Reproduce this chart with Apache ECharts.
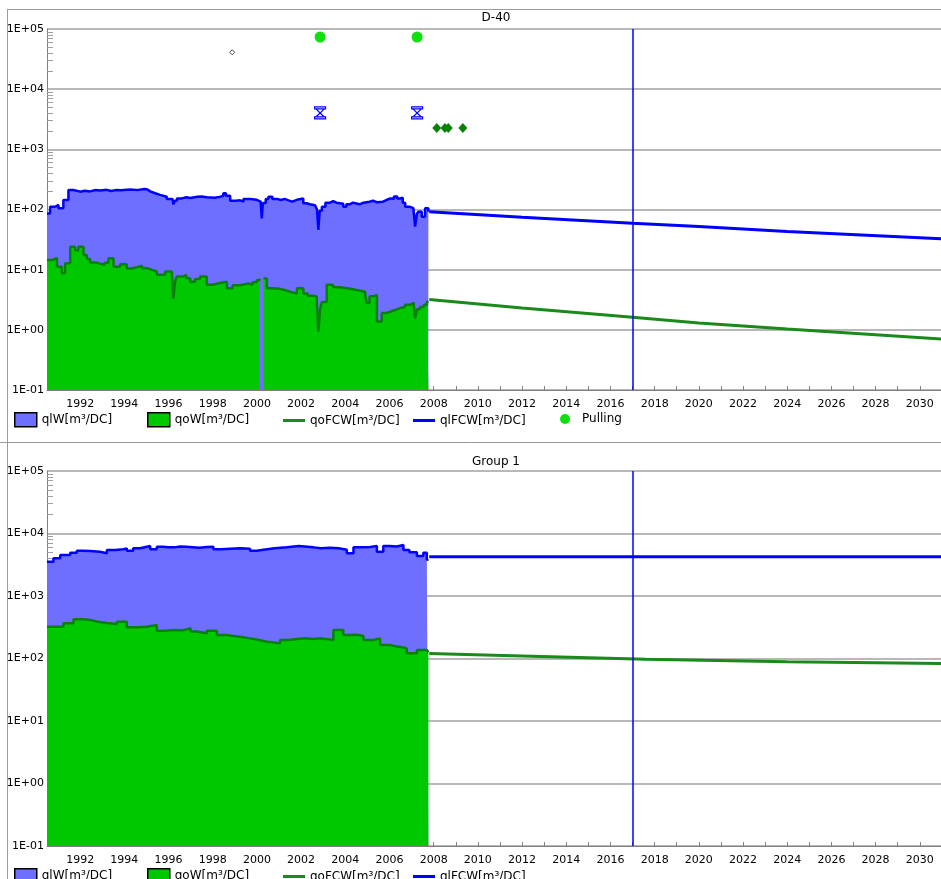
<!DOCTYPE html>
<html>
<head>
<meta charset="utf-8">
<title>D-40 / Group 1 rates</title>
<script src="https://cdn.jsdelivr.net/npm/echarts@6/dist/echarts.min.js"></script>
<style>
  html, body { margin: 0; padding: 0; background: #fff; }
  #chart { width: 941px; height: 879px; }
</style>
</head>
<body>
<div id="chart"></div>
<script>
// ---- D-40 well history: [decimal year, rate m³/DC] ----
const d40Liquid = [
  [1990.5,86],[1990.64,111],[1990.87,119],[1991.02,105],[1991.24,144],[1991.47,211],[1991.7,198],
  [1992.0,205],[1992.2,200],[1992.45,211],[1992.7,207],[1992.9,212],[1993.21,203],[1993.4,210],[1993.6,208],
  [1993.85,212],[1994.1,214],[1994.35,210],[1994.57,219],[1994.9,215],[1995.05,200],[1995.17,186],[1995.4,175],
  [1995.62,163],[1995.92,150],[1996.18,140],[1996.22,122],[1996.28,140],[1996.38,153],[1996.6,160],[1996.8,155],
  [1996.98,163],[1997.3,165],[1997.5,160],[1997.73,157],[1998.1,162],[1998.3,168],[1998.48,186],[1998.6,170],
  [1998.79,140],[1999.05,142],[1999.24,135],[1999.39,150],[1999.7,145],[1999.99,135],[2000.17,130],[2000.22,71],
  [2000.27,128],[2000.4,150],[2000.52,163],[2000.7,150],[2000.9,144],[2001.1,150],[2001.25,142],[2001.43,135],
  [2001.6,145],[2001.81,153],[2002.1,127],[2002.25,122],[2002.4,118],[2002.63,111],[2002.72,100],[2002.78,46],
  [2002.84,95],[2002.94,111],[2003.1,130],[2003.31,138],[2003.45,130],[2003.6,125],[2003.91,111],[2004.05,122],
  [2004.2,130],[2004.35,126],[2004.5,122],[2004.65,130],[2004.82,135],[2005.1,140],[2005.25,132],[2005.43,135],
  [2005.7,145],[2005.88,153],[2006.05,150],[2006.2,165],[2006.35,152],[2006.48,157],[2006.6,130],
  [2006.71,111],[2006.93,105],[2007.08,98],[2007.16,52],[2007.24,85],[2007.31,92],[2007.46,76],
  [2007.61,105],[2007.76,92]
];
// oil history is split around the short shut-in early in 2000
const d40OilBeforeShutIn = [
  [1990.5,14.5],[1990.72,15.5],[1990.95,11.2],[1991.17,8.7],[1991.32,12.8],[1991.55,24],[1991.77,21],
  [1991.92,24],[1992.15,17.5],[1992.3,15],[1992.45,13.2],[1992.7,12.6],[1992.9,12],[1993.1,13],[1993.28,15.5],
  [1993.51,11.2],[1993.81,12.3],[1994.11,10.5],[1994.35,11],[1994.57,11.6],[1994.8,10.6],[1995.02,9.9],
  [1995.25,9.4],[1995.47,8.2],[1995.85,9.3],[1996.15,8.5],[1996.22,3.3],[1996.3,6.5],[1996.38,7.7],
  [1996.67,8.2],[1996.8,7.2],[1996.98,6.3],[1997.2,7.0],[1997.43,7.7],[1997.73,5.6],[1998.0,6.0],[1998.33,6.3],
  [1998.64,4.9],[1998.9,5.5],[1999.24,5.9],[1999.62,5.6],[1999.8,6.2],[1999.99,6.7],[2000.12,7.1]
];
const d40OilAfterShutIn = [
  [2000.3,7.1],[2000.45,4.9],[2000.75,4.8],[2001.05,4.6],[2001.25,4.3],[2001.5,4.0],[2001.81,4.9],[2002.1,4.0],
  [2002.3,3.7],[2002.56,3.6],[2002.7,3.4],[2002.78,0.93],[2002.86,2.2],[2002.94,2.9],[2003.16,5.6],[2003.45,5.1],
  [2003.76,4.9],[2004.1,4.6],[2004.52,4.3],[2004.9,3.8],[2004.97,2.8],[2005.1,3.6],[2005.27,3.8],[2005.43,1.37],
  [2005.65,1.9],[2005.85,2.0],[2006.03,2.14],[2006.25,2.3],[2006.48,2.4],[2006.7,2.6],[2006.93,2.8],
  [2007.1,2.5],[2007.16,1.55],[2007.25,2.2],[2007.38,2.4],[2007.55,2.6],[2007.69,2.9],[2007.76,3.0]
];
const d40OilForecast = [[2007.8,3.2],[2012,2.3],[2017,1.62],[2020,1.3],[2024,1.03],[2031,0.70]];
const d40LiquidForecast = [[2007.8,92],[2012,74],[2017,59],[2020,52],[2024,43],[2031,32.5]];

// ---- D-40 well events ----
const pullingEvents = [[2002.86,73600],[2007.25,73600]];
const hourglassEvents = [[2002.86,4020],[2007.25,4020]];
const diamondEvents = [[2008.14,2265],[2008.51,2265],[2008.66,2265],[2009.32,2265]];
const smallEvents = [[1998.88,41000]];

// ---- Group 1 history and forecast ----
const groupLiquid = [
  [1990.5,3540],[1990.79,4010],[1991.1,4530],[1991.4,4530],[1991.55,4930],[1991.85,5310],[1992.15,5250],
  [1992.45,5120],[1992.9,4820],[1993.21,5450],[1993.6,5600],[1993.96,5790],[1994.11,5310],[1994.4,5800],
  [1994.71,6150],[1995.02,6310],[1995.17,5580],[1995.47,6150],[1995.75,6000],[1996.0,6000],[1996.25,6200],
  [1996.52,6150],[1996.8,6050],[1997.1,5900],[1997.4,6100],[1997.73,6150],[1998.03,5580],[1998.4,5700],
  [1998.79,5790],[1999.24,5720],[1999.69,5310],[2000.0,5500],[2000.29,5790],[2000.8,6000],[2001.35,6310],
  [2001.9,6000],[2002.56,5790],[2002.9,5900],[2003.31,5790],[2003.7,5500],[2004.07,4820],[2004.37,6000],
  [2004.75,6100],[2005.12,6310],[2005.43,5120],[2005.72,6310],[2006.0,6200],[2006.33,6550],[2006.63,5450],
  [2006.9,5000],[2007.24,4370],[2007.53,4930],[2007.69,3770],[2007.76,3900]
];
const groupOil = [
  [1990.5,323],[1990.87,323],[1991.24,366],[1991.7,424],[1992.15,413],[1992.45,388],[1992.8,370],
  [1993.21,356],[1993.66,388],[1994.11,317],[1994.57,323],[1995.02,344],[1995.47,279],[1995.85,285],
  [1996.22,283],[1996.67,304],[1997.0,270],[1997.28,253],[1997.73,279],[1998.19,238],[1998.64,229],
  [1998.95,222],[1999.24,210],[1999.69,198],[2000.1,185],[2000.45,175],[2001.05,198],[2001.4,205],
  [2001.81,210],[2002.2,205],[2002.56,210],[2002.86,198],[2003.46,286],[2003.91,238],[2004.2,240],
  [2004.52,229],[2004.82,198],[2005.27,210],[2005.57,164],[2006.03,155],[2006.35,150],[2006.63,145],
  [2006.78,121],[2007.24,137],[2007.69,137],[2007.76,125]
];
const groupOilForecast = [[2007.8,120],[2012,110],[2017.6,97],[2024,89],[2031,83]];
const groupLiquidForecast = [[2007.8,4250],[2031,4250]];

// ---- axes ----
const labelYears = [1992,1994,1996,1998,2000,2002,2004,2006,2008,2010,2012,2014,2016,2018,2020,2022,2024,2026,2028,2030];
const tickYears = [1991,1992,1993,1994,1995,1996,1997,1998,1999,2000,2001,2002,2003,2004,2005,2006,2007,2008,2009,2010,2011,2012,2013,2014,2015,2016,2017,2018,2019,2020,2021,2022,2023,2024,2025,2026,2027,2028,2029,2030];
const forecastDate = 2017;
const yMin = 0.1, yMax = 1e5;
const minorMultipliers = [2,3,4,5,6,7,8,9];
const decades = [0.1,1,10,100,1000,10000];

const minorTickPositions = [];
decades.forEach(d => minorMultipliers.forEach(m => minorTickPositions.push(Math.log10(d * m))));

const FONT = 'DejaVu Sans';
const C_LIQ_FILL = '#6e6eff', C_LIQ_LINE = '#0000ff';
const C_OIL_FILL = '#00c800', C_OIL_LINE = '#0a800a';
const C_OIL_FC = '#1a8a1a';
const C_PULL = '#10e010';
const GRID_C = '#a0a0a0', AXIS_C = '#808080';

const grids = [
  { left: 47, right: 0, top: 29, height: 361 },
  { left: 47, right: 0, top: 471, height: 375 }
];

function expLabel(v) {
  const e = Math.round(Math.log10(v));
  const s = e < 0 ? '-' : '+';
  return '1E' + s + String(Math.abs(e)).padStart(2, '0');
}

const xAxes = [0, 1].map(i => ({
  type: 'value', gridIndex: i, min: 1990.5, max: 2030.96,
  axisLine: { show: true, onZero: false, lineStyle: { color: AXIS_C, width: 1 } },
  axisTick: { show: true, inside: true, length: 4, customValues: tickYears, lineStyle: { color: AXIS_C } },
  axisLabel: { customValues: labelYears, formatter: v => String(Math.round(v)), color: '#000', fontFamily: FONT, fontSize: 11, margin: 9 },
  splitLine: { show: false }
}));

const yAxes = [];
[0, 1].forEach(i => {
  yAxes.push({
    type: 'log', logBase: 10, gridIndex: i, min: yMin, max: yMax, position: 'left',
    axisLine: { show: true, onZero: false, lineStyle: { color: AXIS_C, width: 1 } },
    axisTick: { show: false },
    axisLabel: { formatter: expLabel, color: '#000', fontFamily: FONT, fontSize: 11, margin: 3 },
    splitLine: { show: true, lineStyle: { color: GRID_C, width: 1.5 } }
  });
  // minor tick marks between decades
  yAxes.push({
    type: 'value', gridIndex: i, min: -1, max: 5, position: 'left', offset: 0,
    axisLine: { show: false, onZero: false },
    axisTick: { show: true, inside: true, length: 6, customValues: minorTickPositions, lineStyle: { color: GRID_C, width: 1 } },
    axisLabel: { show: false },
    splitLine: { show: false }
  });
});

function areaSeries(name, data, xi, yi, fill, line) {
  return {
    name, type: 'line', xAxisIndex: xi, yAxisIndex: yi, data, step: 'end',
    showSymbol: false, symbol: 'none',
    lineStyle: { color: line, width: 2.5 },
    itemStyle: { color: fill },
    areaStyle: { color: fill, opacity: 1, origin: 'start' }
  };
}
function lineSeries(name, data, xi, yi, color, extra) {
  return Object.assign({
    name, type: 'line', xAxisIndex: xi, yAxisIndex: yi, data,
    showSymbol: false, symbol: 'none',
    lineStyle: { color, width: 3 }, itemStyle: { color }
  }, extra || {});
}
function forecastMark() {
  return {
    silent: true, symbol: ['none', 'none'], label: { show: false },
    lineStyle: { color: '#0000ff', width: 1.5, type: 'solid' },
    data: [{ xAxis: forecastDate }]
  };
}

const HOURGLASS = 'path://M0,0H12V2H0Z M1.5,2H10.5L6,6L10.5,10H1.5L6,6Z M0,10H12V12H0Z';

const series = [
  areaSeries('qlW[m³/DC]', d40Liquid, 0, 0, C_LIQ_FILL, C_LIQ_LINE),
  areaSeries('qoW[m³/DC]', d40OilBeforeShutIn, 0, 0, C_OIL_FILL, C_OIL_LINE),
  areaSeries('qoW[m³/DC]', d40OilAfterShutIn, 0, 0, C_OIL_FILL, C_OIL_LINE),
  lineSeries('qoFCW[m³/DC]', d40OilForecast, 0, 0, C_OIL_FC),
  lineSeries('qlFCW[m³/DC]', d40LiquidForecast, 0, 0, C_LIQ_LINE, { markLine: forecastMark() }),
  { name: 'Pulling', type: 'scatter', xAxisIndex: 0, yAxisIndex: 0, data: pullingEvents,
    symbol: 'circle', symbolSize: 11, itemStyle: { color: C_PULL, opacity: 1 } },
  { name: 'hourglass', type: 'scatter', xAxisIndex: 0, yAxisIndex: 0, data: hourglassEvents,
    symbol: HOURGLASS, symbolSize: [11, 12], itemStyle: { color: '#ffffff', borderColor: '#0000ff', borderWidth: 1.2, opacity: 1 } },
  { name: 'diamond', type: 'scatter', xAxisIndex: 0, yAxisIndex: 0, data: diamondEvents,
    symbol: 'diamond', symbolSize: [9, 10], itemStyle: { color: '#0a820a', opacity: 1 } },
  { name: 'small', type: 'scatter', xAxisIndex: 0, yAxisIndex: 0, data: smallEvents,
    symbol: 'diamond', symbolSize: 5, itemStyle: { color: '#ffffff', borderColor: '#444', borderWidth: 1, opacity: 1 } },

  areaSeries('qlW[m³/DC]', groupLiquid, 1, 2, C_LIQ_FILL, C_LIQ_LINE),
  areaSeries('qoW[m³/DC]', groupOil, 1, 2, C_OIL_FILL, C_OIL_LINE),
  lineSeries('qoFCW[m³/DC]', groupOilForecast, 1, 2, C_OIL_FC),
  lineSeries('qlFCW[m³/DC]', groupLiquidForecast, 1, 2, C_LIQ_LINE, { markLine: forecastMark() })
];

// legend rows: one legend component per entry so each sits at its own column
const legendText = { color: '#000', fontFamily: FONT, fontSize: 12 };
function legendRect(name, left, top, fill) {
  return { left, top, padding: 0, itemWidth: 22, itemHeight: 14, selectedMode: false, textStyle: legendText,
    data: [{ name, icon: 'rect', itemStyle: { color: fill, borderColor: '#000', borderWidth: 1.5 } }] };
}
function legendLine(name, left, top, color) {
  return { left, top: top + 2.5, padding: 0, itemWidth: 22, itemHeight: 3, selectedMode: false, textStyle: legendText,
    data: [{ name, icon: 'rect', itemStyle: { color, borderWidth: 0 } }] };
}
const legends = [];
[412, 868].forEach((top, row) => {
  legends.push(legendRect('qlW[m³/DC]', 14, top, C_LIQ_FILL));
  legends.push(legendRect('qoW[m³/DC]', 147, top, C_OIL_FILL));
  legends.push(legendLine('qoFCW[m³/DC]', 283, top, C_OIL_FC));
  legends.push(legendLine('qlFCW[m³/DC]', 413, top, C_LIQ_LINE));
  if (row === 0) {
    legends.push({ left: 560, top: top + 1, padding: 0, itemWidth: 10, itemHeight: 10, selectedMode: false,
      textStyle: Object.assign({ padding: [0, 0, 0, 7] }, legendText),
      data: [{ name: 'Pulling', icon: 'circle', itemStyle: { color: C_PULL, opacity: 1 } }] });
  }
});

const frame = { stroke: '#9a9a9a', lineWidth: 1 };
const graphic = [
  { type: 'line', shape: { x1: 7, y1: 9.5, x2: 941, y2: 9.5 }, style: frame, silent: true },
  { type: 'line', shape: { x1: 7.5, y1: 9, x2: 7.5, y2: 879 }, style: frame, silent: true },
  { type: 'line', shape: { x1: 0, y1: 442.5, x2: 941, y2: 442.5 }, style: frame, silent: true },
  { type: 'text', x: 496, y: 18, silent: true,
    style: { text: 'D-40', fill: '#000', font: '12px "DejaVu Sans"', textAlign: 'center', textVerticalAlign: 'middle' } },
  { type: 'text', x: 496, y: 462, silent: true,
    style: { text: 'Group 1', fill: '#000', font: '12px "DejaVu Sans"', textAlign: 'center', textVerticalAlign: 'middle' } }
];

const chart = echarts.init(document.getElementById('chart'), null, { renderer: 'canvas' });
chart.setOption({
  animation: false,
  backgroundColor: '#ffffff',
  grid: grids,
  xAxis: xAxes,
  yAxis: yAxes,
  legend: legends,
  graphic,
  series
});
</script>
</body>
</html>
